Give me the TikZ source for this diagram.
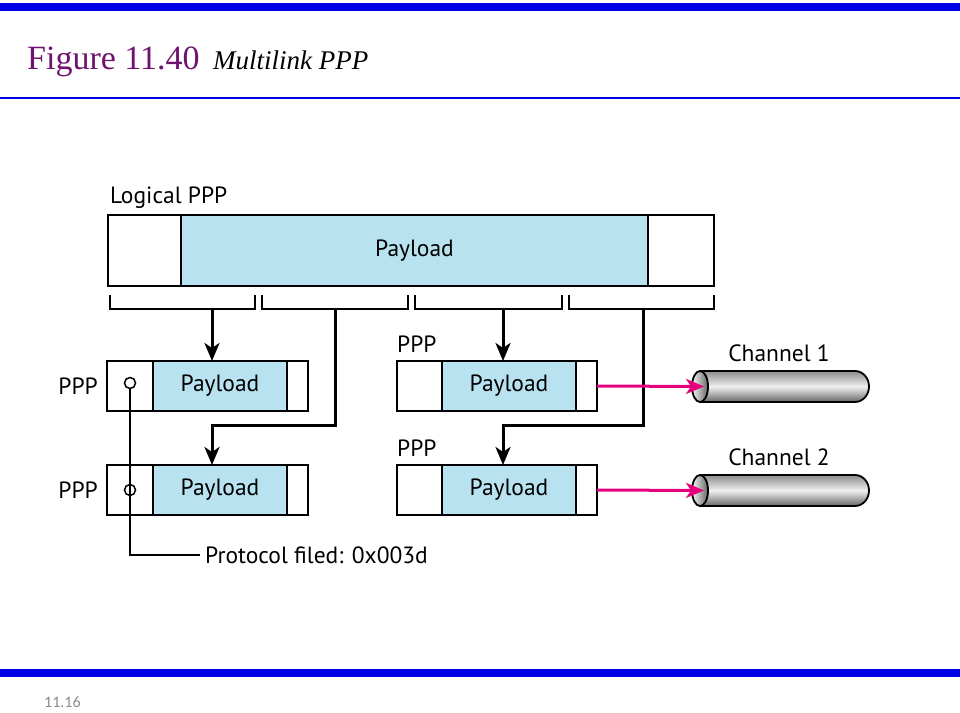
\documentclass[tikz,border=0pt]{standalone}
\usepackage{fontspec}
\setmainfont{Liberation Serif}
\newfontfamily\labelfont{PT Sans}
\newfontfamily\footfont{Carlito}
\usetikzlibrary{arrows.meta,positioning,shapes.geometric}
\definecolor{slideblue}{RGB}{0,0,230}
\definecolor{titlepurple}{RGB}{110,20,110}
\definecolor{payblue}{RGB}{184,226,240}
\definecolor{linkpink}{RGB}{230,0,126}
\tikzset{
  seg/.style={draw, line width=1.8pt, minimum height=50pt, inner sep=0pt, outer sep=0pt,
    anchor=west, font=\labelfont\fontsize{23.5}{26}\selectfont},
  head/.style={seg, minimum width=46pt},
  pay/.style={seg, fill=payblue, minimum width=134pt},
  tail/.style={seg, minimum width=21pt},
  lab/.style={font=\labelfont\fontsize{23.5}{26}\selectfont, inner sep=0pt},
  flow/.style={line width=3pt, -{Stealth[length=18pt,width=15pt,inset=5pt]}},
  link/.style={line width=3pt, linkpink, -{Stealth[length=18pt,width=15pt,inset=5pt]}},
  thinline/.style={line width=1.5pt},
  bar/.style={slideblue, line width=8pt},
}
\begin{document}
\begin{tikzpicture}[x=1pt,y=-1pt]
\useasboundingbox (0,0) rectangle (960,712);
% slide frame
\draw[bar] (0,7) -- (960,7);
\draw[slideblue, line width=2.5pt] (0,98) -- (960,98);
\draw[bar] (0,673) -- (960,673);
\node[anchor=base west, inner sep=0pt, text=titlepurple, font=\fontsize{34}{40}\selectfont] (fig) at (27,69) {Figure 11.40};
\node[anchor=base west, inner sep=0pt, font=\itshape\fontsize{27}{32}\selectfont] (name) at (213,69) {Multilink PPP};
\node[anchor=west, inner sep=0pt, text=black!45, font=\footfont\fontsize{16}{18}\selectfont] (pg) at (44,702) {11.16};

% logical frame
\node[lab, anchor=base west] (logical) at (110,203) {Logical PPP};
\node[head, minimum width=73pt, minimum height=71pt] (lh) at (108,250.5) {};
\node[pay, minimum width=467pt, minimum height=71pt, right=0pt of lh] (lp) {Payload};
\node[tail, minimum width=66pt, minimum height=71pt, right=0pt of lp] (lt) {};

% fragments
\draw[thinline] (110,295) -- (110,309) -- (255,309) -- (255,295);
\draw[thinline] (262,295) -- (262,309) -- (408,309) -- (408,295);
\draw[thinline] (415,295) -- (415,309) -- (562,309) -- (562,295);
\draw[thinline] (569,295) -- (569,309) -- (714,309) -- (714,295);
\coordinate (b1) at (212,309);
\coordinate (b2) at (335,309);
\coordinate (b3) at (503,309);
\coordinate (b4) at (643,309);

% member frames
\node[head] (f1h) at (107,386) {};
\node[pay, right=0pt of f1h] (f1p) {Payload};
\node[tail, right=0pt of f1p] (f1t) {};
\node[head] (f2h) at (107,490) {};
\node[pay, right=0pt of f2h] (f2p) {Payload};
\node[tail, right=0pt of f2p] (f2t) {};
\node[head, minimum width=45pt] (f3h) at (397,386) {};
\node[pay, right=0pt of f3h] (f3p) {Payload};
\node[tail, right=0pt of f3p] (f3t) {};
\node[head, minimum width=45pt] (f4h) at (397,490) {};
\node[pay, right=0pt of f4h] (f4p) {Payload};
\node[tail, right=0pt of f4p] (f4t) {};

\node[lab, left=9pt of f1h] (p1) {PPP};
\node[lab, left=9pt of f2h] (p2) {PPP};
\node[lab, anchor=south west] (p3) at ([yshift=8pt]f3h.north west) {PPP};
\node[lab, anchor=south west] (p4) at ([yshift=8pt]f4h.north west) {PPP};

% fragment paths
\draw[flow] (b1) -- (b1 |- f1p.north);
\draw[flow] (b2) -- ++(0,116) -| (b1 |- f2p.north);
\draw[flow] (b3) -- (b3 |- f3p.north);
\draw[flow] (b4) -- ++(0,116) -| (b3 |- f4p.north);

% protocol field
\node[circle, draw, thinline, fill=white, minimum size=11pt, inner sep=0pt] (c1) at (130,383) {};
\node[circle, draw, thinline, minimum size=11pt, inner sep=0pt] (c2) at (130,490) {};
\node[lab, anchor=west, inner xsep=5pt] (proto) at (200,555) {Protocol filed: 0x003d};
\draw[thinline] (c1.south) |- (proto.west);

% channels
\foreach \i/\y in {1/386.5, 2/490.5} {
  \shade[top color=black!45, bottom color=black!60, middle color=black!6, draw, line width=1.8pt]
    (700,\y-15.5) -- (855,\y-15.5) arc[start angle=-90, end angle=90, x radius=14, y radius=15.5]
    -- (700,\y+15.5) -- cycle;
  \node[ellipse, draw, line width=1.8pt, minimum width=16pt, minimum height=31pt, inner sep=0pt,
    left color=black!5, right color=black!60] (m\i) at (700,\y) {};
  \node[lab] (ch\i) at (779,\y-33) {Channel \i};
}
\draw[link] (f3t.east) -- ([xshift=4pt]m1.center);
\draw[link] (f4t.east) -- ([xshift=4pt]m2.center);
\end{tikzpicture}
\end{document}
